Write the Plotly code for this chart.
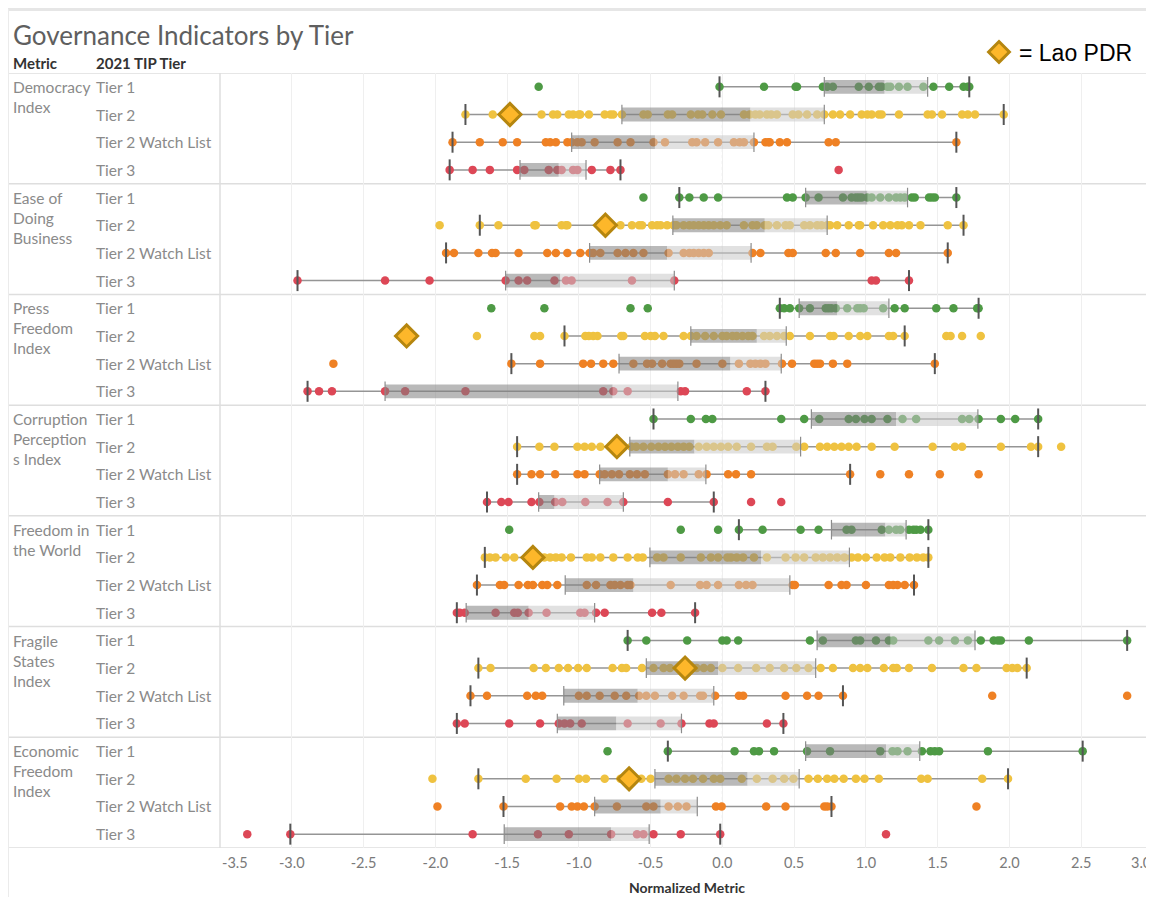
import plotly.graph_objects as go

# ---------------- data ----------------
metrics = ["Democracy<br>Index", "Ease of<br>Doing<br>Business", "Press<br>Freedom<br>Index",
           "Corruption<br>Perception<br>s Index", "Freedom in<br>the World",
           "Fragile<br>States<br>Index", "Economic<br>Freedom<br>Index"]
tiers = ["Tier 1", "Tier 2", "Tier 2 Watch List", "Tier 3"]
tier_colors = ["#4E9A45", "#EFC240", "#EF8124", "#DD4756"]

# Lao PDR (Tier 2) value for each metric
lao_pdr = [-1.48, -0.815, -2.20, -0.735, -1.32, -0.26, -0.65]

# individual country values (one list per metric / tier row)
dem_t1 = [-1.28, -0.02, 0.29, 0.51, 0.52, 0.70, 0.73, 0.77, 0.95, 1.02, 1.09, 1.11, 1.15, 1.17, 1.23, 1.29, 1.40, 1.47, 1.58, 1.68, 1.71, 1.72]
dem_t2 = [-1.79, -1.60, -1.48, -1.26, -1.18, -1.15, -1.07, -1.04, -1.00, -0.99, -0.93, -0.82, -0.78, -0.76, -0.70, -0.55, -0.52, -0.38, -0.35, -0.22, -0.17, -0.14, -0.07, -0.01, 0.15, 0.19, 0.23, 0.26, 0.31, 0.34, 0.38, 0.49, 0.53, 0.59, 0.66, 0.71, 0.77, 0.82, 0.89, 0.97, 1.01, 1.04, 1.09, 1.11, 1.23, 1.43, 1.46, 1.53, 1.67, 1.71, 1.76, 1.96]
dem_twl = [-1.88, -1.69, -1.53, -1.43, -1.23, -1.20, -1.16, -1.08, -1.05, -1.01, -0.98, -0.89, -0.73, -0.64, -0.48, -0.40, -0.21, -0.18, -0.12, -0.03, 0.08, 0.12, 0.15, 0.22, 0.30, 0.32, 0.33, 0.40, 0.45, 0.74, 0.79, 1.63]
dem_t3 = [-1.90, -1.74, -1.62, -1.43, -1.38, -1.21, -1.15, -1.12, -1.04, -1.01, -0.91, -0.78, -0.71, 0.81]

ease_t1 = [-0.55, -0.30, -0.23, -0.13, -0.03, 0.45, 0.49, 0.58, 0.67, 0.84, 0.90, 0.93, 0.95, 0.97, 1.01, 1.04, 1.10, 1.16, 1.21, 1.24, 1.27, 1.32, 1.34, 1.44, 1.46, 1.48, 1.63]
ease_t2 = [-1.97, -1.69, -1.56, -1.31, -1.30, -1.12, -1.09, -1.08, -0.815, -0.71, -0.63, -0.58, -0.56, -0.49, -0.455, -0.43, -0.385, -0.34, -0.32, -0.27, -0.23, -0.20, -0.165, -0.13, -0.095, -0.06, -0.015, 0.03, 0.15, 0.21, 0.24, 0.295, 0.32, 0.38, 0.44, 0.47, 0.57, 0.61, 0.66, 0.69, 0.73, 0.75, 0.80, 0.88, 0.95, 0.96, 1.05, 1.12, 1.17, 1.22, 1.25, 1.30, 1.38, 1.57, 1.68]
ease_twl = [-1.925, -1.87, -1.70, -1.605, -1.58, -1.42, -1.22, -1.16, -1.08, -0.99, -0.925, -0.90, -0.85, -0.73, -0.675, -0.62, -0.55, -0.375, -0.27, -0.23, -0.20, -0.165, -0.13, -0.095, 0.21, 0.265, 0.46, 0.49, 0.72, 0.79, 0.96, 1.16, 1.21, 1.57]
ease_t3 = [-2.96, -2.35, -2.04, -1.51, -1.42, -1.36, -1.17, -1.09, -1.05, -0.63, -0.335, 1.04, 1.07, 1.30]

press_t1 = [-1.61, -1.24, -0.64, -0.52, 0.40, 0.43, 0.47, 0.535, 0.61, 0.72, 0.74, 0.76, 0.79, 0.87, 0.94, 0.96, 0.985, 1.12, 1.20, 1.27, 1.49, 1.61, 1.775, 1.785]
press_t2 = [-2.20, -1.71, -1.31, -1.27, -1.10, -0.955, -0.93, -0.90, -0.87, -0.705, -0.69, -0.54, -0.50, -0.47, -0.41, -0.27, -0.22, -0.18, -0.12, -0.06, 0.0, 0.03, 0.07, 0.10, 0.14, 0.18, 0.21, 0.29, 0.33, 0.38, 0.43, 0.47, 0.61, 0.75, 0.775, 0.88, 0.96, 1.01, 1.16, 1.19, 1.27, 1.56, 1.59, 1.67, 1.80]
press_twl = [-2.71, -1.47, -1.27, -0.97, -0.915, -0.83, -0.76, -0.62, -0.525, -0.49, -0.42, -0.36, -0.34, -0.32, -0.30, -0.18, 0.0, 0.115, 0.195, 0.23, 0.265, 0.30, 0.415, 0.485, 0.64, 0.66, 0.68, 0.77, 0.87, 1.48]
press_t3 = [-2.89, -2.81, -2.72, -2.35, -2.21, -1.79, -0.83, -0.76, -0.66, -0.29, -0.26, 0.17, 0.30]

cpi_t1 = [-0.48, -0.22, -0.115, -0.07, 0.41, 0.57, 0.675, 0.88, 0.93, 0.99, 1.04, 1.15, 1.255, 1.35, 1.67, 1.72, 1.785, 1.94, 2.04, 2.20]
cpi_t2 = [-1.43, -1.275, -1.17, -1.01, -0.96, -0.91, -0.85, -0.735, -0.635, -0.60, -0.55, -0.495, -0.445, -0.40, -0.355, -0.31, -0.27, -0.23, -0.165, -0.11, -0.06, -0.01, 0.04, 0.10, 0.20, 0.31, 0.35, 0.515, 0.57, 0.68, 0.73, 0.78, 0.83, 0.88, 0.935, 1.04, 1.20, 1.465, 1.62, 1.67, 1.94, 2.15, 2.20, 2.36]
cpi_twl = [-1.43, -1.33, -1.27, -1.165, -1.01, -0.96, -0.855, -0.82, -0.77, -0.72, -0.645, -0.595, -0.54, -0.38, -0.33, -0.27, -0.165, -0.11, 0.04, 0.095, 0.20, 0.89, 1.10, 1.30, 1.515, 1.785]
cpi_t3 = [-1.64, -1.54, -1.49, -1.33, -1.275, -1.165, -1.115, -0.955, -0.80, -0.69, -0.38, -0.06, 0.20, 0.41]

fiw_t1 = [-1.485, -0.29, -0.03, 0.115, 0.28, 0.545, 0.67, 0.865, 0.90, 1.11, 1.16, 1.21, 1.24, 1.30, 1.33, 1.35, 1.38, 1.435]
fiw_t2 = [-1.655, -1.62, -1.58, -1.51, -1.45, -1.32, -1.24, -1.20, -1.16, -1.12, -1.055, -0.945, -0.91, -0.85, -0.76, -0.66, -0.59, -0.555, -0.455, -0.41, -0.29, -0.15, -0.08, -0.03, 0.035, 0.06, 0.10, 0.145, 0.22, 0.31, 0.44, 0.51, 0.57, 0.65, 0.70, 0.75, 0.80, 0.85, 0.90, 0.945, 1.00, 1.075, 1.13, 1.17, 1.24, 1.305, 1.355, 1.40, 1.435]
fiw_twl = [-1.71, -1.55, -1.52, -1.42, -1.355, -1.32, -1.255, -1.22, -1.15, -0.945, -0.88, -0.78, -0.75, -0.71, -0.66, -0.64, -0.36, -0.155, -0.11, -0.03, 0.115, 0.165, 0.21, 0.49, 0.505, 0.74, 0.83, 0.865, 1.00, 1.16, 1.19, 1.22, 1.27, 1.335]
fiw_t3 = [-1.85, -1.83, -1.795, -1.58, -1.45, -1.425, -1.35, -1.225, -0.99, -0.96, -0.88, -0.82, -0.49, -0.425, -0.19]

fsi_t1 = [-0.66, -0.53, -0.245, 0.0, 0.03, 0.11, 0.61, 0.70, 0.93, 0.96, 1.07, 1.16, 1.19, 1.435, 1.51, 1.62, 1.71, 1.80, 1.89, 1.92, 1.94, 2.135, 2.82]
fsi_t2 = [-1.70, -1.615, -1.315, -1.23, -1.14, -1.075, -1.005, -0.945, -0.765, -0.70, -0.67, -0.56, -0.48, -0.41, -0.365, -0.26, -0.18, -0.13, -0.08, 0.0, 0.11, 0.235, 0.33, 0.43, 0.515, 0.60, 0.685, 0.77, 0.91, 0.96, 1.01, 1.125, 1.19, 1.215, 1.30, 1.46, 1.68, 1.77, 1.98, 2.02, 2.055, 2.12]
fsi_twl = [-1.755, -1.64, -1.36, -1.30, -1.255, -1.00, -0.945, -0.855, -0.75, -0.67, -0.58, -0.53, -0.47, -0.35, -0.27, -0.155, -0.135, -0.05, 0.115, 0.145, 0.44, 0.59, 0.67, 0.84, 1.88, 2.82]
fsi_t3 = [-1.85, -1.795, -1.485, -1.27, -1.14, -1.10, -1.06, -0.98, -0.66, -0.43, -0.285, -0.09, -0.06, 0.31, 0.425]

efi_t1 = [-0.80, -0.38, 0.085, 0.22, 0.255, 0.36, 0.59, 0.75, 1.10, 1.185, 1.22, 1.29, 1.39, 1.45, 1.48, 1.51, 1.85, 2.51]
efi_t2 = [-2.02, -1.70, -1.37, -1.155, -1.00, -0.95, -0.82, -0.71, -0.65, -0.565, -0.50, -0.375, -0.32, -0.26, -0.205, -0.135, -0.06, -0.015, 0.135, 0.24, 0.35, 0.43, 0.495, 0.60, 0.665, 0.73, 0.78, 0.845, 0.93, 0.99, 1.09, 1.385, 1.43, 1.81, 1.99]
efi_twl = [-1.985, -1.525, -1.13, -1.05, -1.01, -0.965, -0.89, -0.735, -0.53, -0.48, -0.375, -0.31, -0.25, -0.045, -0.005, 0.305, 0.44, 0.71, 0.73, 0.76, 1.77]
efi_t3 = [-3.31, -3.01, -1.74, -1.285, -1.07, -0.775, -0.595, -0.55, -0.48, -0.29, -0.015, 1.14]

# box-plot statistics per row (metric-major, tier order within metric)
whisker_low = [-0.02, -1.79, -1.88, -1.90,   -0.30, -1.69, -1.925, -2.96,   0.40, -1.10, -1.47, -2.89,
               -0.48, -1.43, -1.43, -1.64,   0.115, -1.655, -1.71, -1.85,  -0.66, -1.70, -1.755, -1.85,
               -0.38, -1.70, -1.525, -3.01]
q1 = [0.71, -0.70, -1.05, -1.41,   0.58, -0.345, -0.925, -1.51,   0.535, -0.22, -0.72, -2.35,
      0.62, -0.645, -0.855, -1.28,   0.76, -0.505, -1.095, -1.785,  0.66, -0.53, -1.105, -1.15,
      0.58, -0.47, -0.89, -1.52]
median = [1.13, 0.195, -0.47, -1.14,   1.01, 0.295, -0.385, -1.13,   0.80, 0.24, 0.055, -0.765,
          1.21, -0.195, -0.38, -1.17,   1.135, 0.27, -0.62, -1.35,   1.17, -0.03, -0.59, -0.74,
          1.14, 0.175, -0.43, -0.775]
q3 = [1.43, 0.71, 0.22, -0.95,   1.29, 0.73, 0.20, -0.335,   1.16, 0.445, 0.41, -0.31,
      1.78, 0.545, -0.115, -0.69,   1.28, 0.885, 0.47, -0.89,   1.76, 0.65, -0.06, -0.285,
      1.375, 0.535, -0.175, -0.51]
whisker_high = [1.72, 1.96, 1.63, -0.71,   1.63, 1.68, 1.57, 1.30,   1.785, 1.27, 1.48, 0.30,
                2.20, 2.20, 0.89, -0.06,   1.435, 1.435, 1.335, -0.19,   2.82, 2.12, 0.84, 0.425,
                2.51, 1.99, 0.76, -0.015]

x_ticks = [-3.5, -3.0, -2.5, -2.0, -1.5, -1.0, -0.5, 0.0, 0.5, 1.0, 1.5, 2.0, 2.5, 3.0]

points = [dem_t1, dem_t2, dem_twl, dem_t3, ease_t1, ease_t2, ease_twl, ease_t3,
          press_t1, press_t2, press_twl, press_t3, cpi_t1, cpi_t2, cpi_twl, cpi_t3,
          fiw_t1, fiw_t2, fiw_twl, fiw_t3, fsi_t1, fsi_t2, fsi_twl, fsi_t3,
          efi_t1, efi_t2, efi_twl, efi_t3]

# ---------------- layout geometry ----------------
# page body has an 8px margin: keep the figure small enough that the page never scrolls
OFF = 8
W, H = 1154 - OFF, 905 - 2 * OFF
PLOT_BOTTOM = 848  # window pixel of the x axis
L, R, T = 220 - OFF, 1, 73 - OFF
B = H - (PLOT_BOTTOM - OFF)
PW, PH = W - L - R, H - T - B


def px_x(px):  # window pixel -> paper x
    return (px - OFF - L) / PW


def px_y(py):  # window pixel -> paper y
    return (H - B - (py - OFF)) / PH


FONT = "Lato, 'Open Sans', sans-serif"
n_rows = len(points)
yrow = [i + 0.5 for i in range(n_rows)]
half = 0.25

fig = go.Figure()

# whisker lines
wx, wy = [], []
for i in range(n_rows):
    wx += [whisker_low[i], whisker_high[i], None]
    wy += [yrow[i], yrow[i], None]
fig.add_trace(go.Scatter(x=wx, y=wy, mode="lines", line=dict(color="#959595", width=1.5),
                         hoverinfo="skip", showlegend=False))

# country points
for t in range(4):
    xs, ys = [], []
    for m in range(len(metrics)):
        i = m * 4 + t
        xs += points[i]
        ys += [yrow[i]] * len(points[i])
    fig.add_trace(go.Scatter(x=xs, y=ys, mode="markers", name=tiers[t],
                             marker=dict(size=8.5, color=tier_colors[t]),
                             hoverinfo="x", showlegend=False))


def box_polys(a, b):
    xs, ys = [], []
    for i in range(n_rows):
        xs += [a[i], b[i], b[i], a[i], a[i], None]
        ys += [yrow[i] - half, yrow[i] - half, yrow[i] + half, yrow[i] + half, yrow[i] - half, None]
    return xs, ys


dx, dy = box_polys(q1, median)
fig.add_trace(go.Scatter(x=dx, y=dy, mode="lines", fill="toself",
                         fillcolor="rgba(128,128,128,0.55)", line=dict(width=0),
                         hoverinfo="skip", showlegend=False))
lx, ly = box_polys(median, q3)
fig.add_trace(go.Scatter(x=lx, y=ly, mode="lines", fill="toself",
                         fillcolor="rgba(200,200,200,0.55)", line=dict(width=0),
                         hoverinfo="skip", showlegend=False))

# box edges (Q1 and Q3)
fig.add_trace(go.Scatter(x=q1 + q3, y=yrow + yrow, mode="markers",
                         marker=dict(symbol="line-ns", size=14, line=dict(color="#8c8c8c", width=1.2)),
                         hoverinfo="skip", showlegend=False))
# whisker caps
fig.add_trace(go.Scatter(x=whisker_low + whisker_high, y=yrow + yrow, mode="markers",
                         marker=dict(symbol="line-ns", size=15, line=dict(color="#555555", width=2)),
                         hoverinfo="skip", showlegend=False))

# Lao PDR diamonds (Tier 2 row of each metric)
lao_y = [yrow[m * 4 + 1] for m in range(len(metrics))]
fig.add_trace(go.Scatter(x=lao_pdr, y=lao_y, mode="markers", name="= Lao PDR",
                         marker=dict(symbol="diamond", size=17, color="#FDB72A",
                                     line=dict(color="#B5860F", width=3)),
                         showlegend=True))

# ---------------- annotations ----------------
ann = []
ann.append(dict(text="Governance Indicators by Tier", xref="paper", yref="paper",
                x=px_x(11), y=px_y(35), xanchor="left", yanchor="middle", showarrow=False,
                font=dict(family=FONT, size=26, color="#5f5f5f")))
ann.append(dict(text="<b>Metric</b>", xref="paper", yref="paper", x=px_x(11), y=px_y(63),
                xanchor="left", yanchor="middle", showarrow=False,
                font=dict(family=FONT, size=15, color="#333333")))
ann.append(dict(text="<b>2021 TIP Tier</b>", xref="paper", yref="paper", x=px_x(94), y=px_y(63),
                xanchor="left", yanchor="middle", showarrow=False,
                font=dict(family=FONT, size=15, color="#333333")))
for m, name in enumerate(metrics):
    ann.append(dict(text=name, xref="paper", yref="y", x=px_x(11), y=m * 4,
                    xanchor="left", yanchor="top", yshift=-3, align="left", showarrow=False,
                    font=dict(family=FONT, size=15.5, color="#8a8a8a")))
    for t, tn in enumerate(tiers):
        ann.append(dict(text=tn, xref="paper", yref="y", x=px_x(94), y=yrow[m * 4 + t],
                        xanchor="left", yanchor="middle", showarrow=False,
                        font=dict(family=FONT, size=15.5, color="#8a8a8a")))
# end tick labels kept inside the plot edges
ann.append(dict(text="-3.5", xref="x", yref="paper", x=x_ticks[0], y=px_y(862), xanchor="left",
                yanchor="middle", showarrow=False, font=dict(family=FONT, size=14.5, color="#7a7a7a")))
ann.append(dict(text="3.0", xref="x", yref="paper", x=x_ticks[-1], y=px_y(862), xanchor="right",
                yanchor="middle", showarrow=False, font=dict(family=FONT, size=14.5, color="#7a7a7a")))
ann.append(dict(text="<b>Normalized Metric</b>", xref="paper", yref="paper", x=0.5, y=px_y(888),
                xanchor="center", yanchor="middle", showarrow=False,
                font=dict(family=FONT, size=14, color="#333333")))

# ---------------- shapes (frame, separators) ----------------
shapes = []
grid_col = "#DEDEDE"
for g in range(len(metrics) + 1):
    shapes.append(dict(type="line", xref="paper", yref="y", x0=px_x(8), x1=1, y0=g * 4, y1=g * 4,
                       line=dict(color=grid_col, width=1.5), layer="below"))
shapes.append(dict(type="line", xref="paper", yref="paper", x0=0, x1=0, y0=0, y1=1,
                   line=dict(color=grid_col, width=1.5), layer="below"))
shapes.append(dict(type="line", xref="paper", yref="paper", x0=1, x1=1, y0=0, y1=1,
                   line=dict(color=grid_col, width=1.5), layer="below"))
shapes.append(dict(type="line", xref="x", yref="paper", x0=0, x1=0, y0=0, y1=1,
                   line=dict(color="#CFCFCF", width=1, dash="dot"), layer="below"))
shapes.append(dict(type="line", xref="paper", yref="paper", x0=px_x(8), x1=px_x(1154),
                   y0=px_y(9.5), y1=px_y(9.5), line=dict(color="#E6E6E6", width=3)))
shapes.append(dict(type="line", xref="paper", yref="paper", x0=px_x(8.5), x1=px_x(8.5),
                   y0=px_y(9), y1=px_y(OFF + H), line=dict(color="#EBEBEB", width=1)))

tick_text = [""] + [f"{v:.1f}" for v in x_ticks[1:-1]] + [""]

fig.update_layout(
    width=W, height=H,
    margin=dict(l=L, r=R, t=T, b=B),
    paper_bgcolor="white", plot_bgcolor="white",
    font=dict(family=FONT),
    xaxis=dict(range=[x_ticks[0], x_ticks[-1]], tickvals=x_ticks, ticktext=tick_text,
               showgrid=True, gridcolor="#EFEFEF", gridwidth=1, zeroline=False, showline=False,
               ticks="", ticklabelstandoff=4,
               tickfont=dict(family=FONT, size=14.5, color="#7a7a7a")),
    yaxis=dict(range=[n_rows, 0], showticklabels=False, showgrid=False, zeroline=False,
               showline=False, ticks=""),
    annotations=ann,
    shapes=shapes,
    showlegend=True,
    legend=dict(x=px_x(979), y=px_y(52), xanchor="left", yanchor="middle",
                bgcolor="rgba(0,0,0,0)", itemsizing="trace",
                font=dict(family="Arial, 'Liberation Sans', sans-serif", size=23, color="black")),
)

fig.write_html("out.html", config={"displayModeBar": False})
